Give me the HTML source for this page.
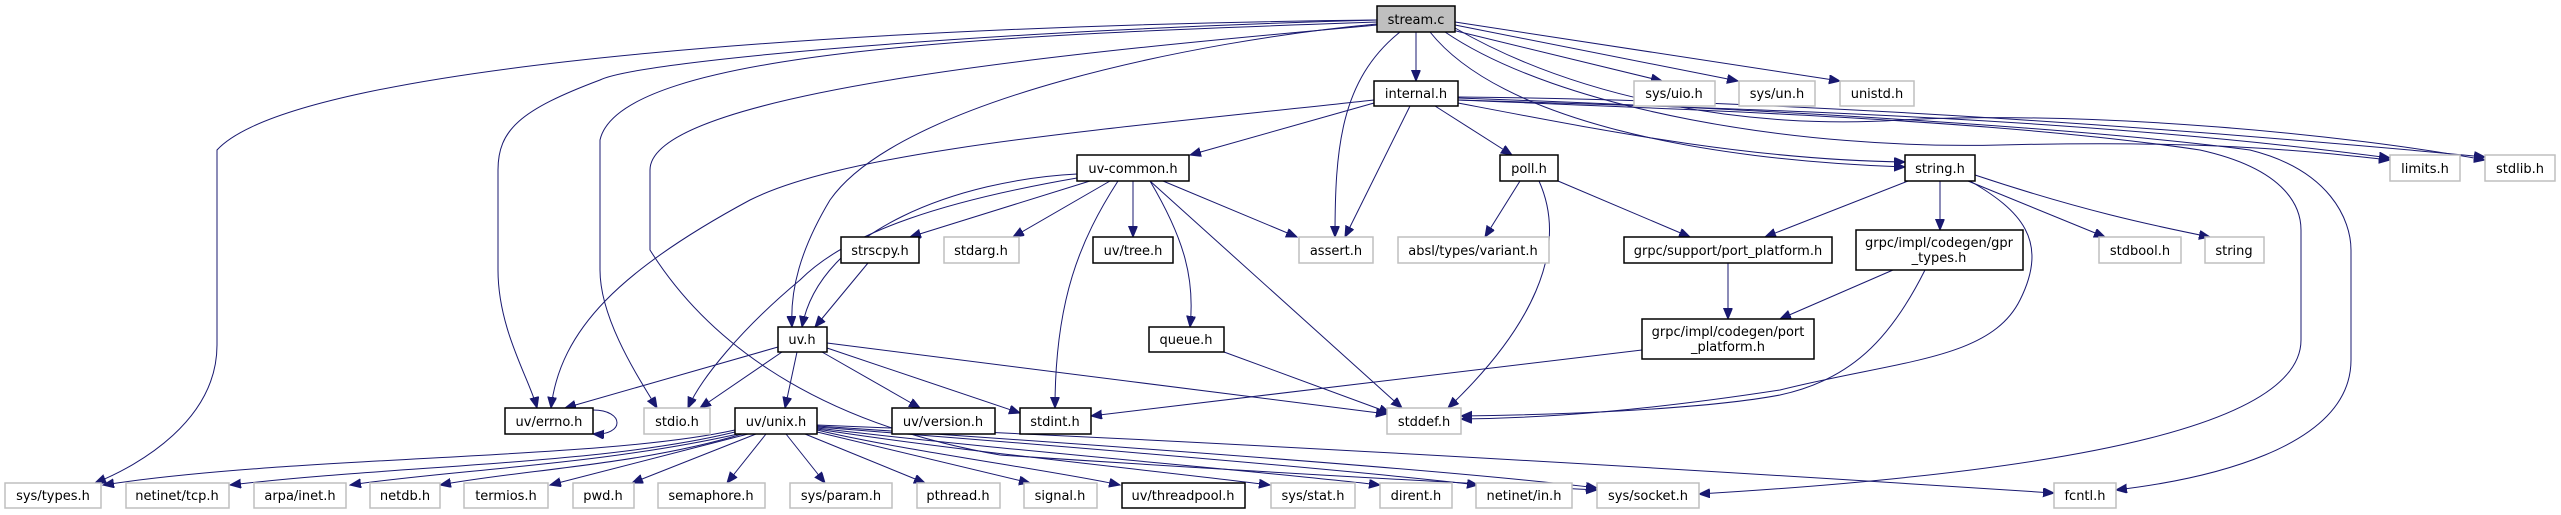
<!DOCTYPE html>
<html><head><meta charset="utf-8"><style>
html,body{margin:0;padding:0;background:#fff;}
svg{display:block;}
text{font-family:"DejaVu Sans","Liberation Sans",sans-serif;font-size:13px;text-anchor:middle;}
.n{fill:#fff;stroke:#000;stroke-width:1.5;}
.g{fill:#fff;stroke:#bfbfbf;stroke-width:1.5;}
.e{fill:none;stroke:#191970;stroke-width:1;marker-end:url(#a);}
</style></head><body>
<svg width="2561" height="515" viewBox="0 0 2561 515" xmlns="http://www.w3.org/2000/svg">
<defs><marker id="a" markerUnits="userSpaceOnUse" markerWidth="12" markerHeight="10" refX="11" refY="4.5" orient="auto"><path d="M0,0 L11,4.5 L0,9 z" fill="#191970" stroke="#191970"/></marker></defs>
<g>
<path class="e" d="M1377,20 C900,25 300,60 217,150 L217,345 C217,420 140,465 95,483"/>
<path class="e" d="M1377,20 C1000,30 640,60 600,80 C520,110 498,130 498,170 L498,270 C498,330 530,380 537,408"/>
<path class="e" d="M1377,22 C1000,35 620,50 600,140 L600,270 C600,320 640,380 657,408"/>
<path class="e" d="M1377,25 C1100,50 650,90 650,170 L650,250 C700,330 800,420 1000,455 C1300,475 1500,485 1597,490"/>
<path class="e" d="M1377,24 C1200,40 900,100 830,200 C800,250 790,290 792,327"/>
<path class="e" d="M1400,32 C1340,80 1335,150 1335,237"/>
<path class="e" d="M1416,32 L1416,81"/>
<path class="e" d="M1452,30 L1662,81"/>
<path class="e" d="M1455,25 L1738,81"/>
<path class="e" d="M1455,22 L1840,81"/>
<path class="e" d="M1430,32 C1500,120 1700,160 1905,167"/>
<path class="e" d="M1445,32 C1560,110 1800,150 2000,145 C2200,140 2300,150 2390,160"/>
<path class="e" d="M1455,28 C1580,100 1750,130 1900,120 C2100,110 2350,135 2485,160"/>
<path class="e" d="M1374,103 L1190,155"/>
<path class="e" d="M1410,106 L1345,237"/>
<path class="e" d="M1435,106 L1512,155"/>
<path class="e" d="M1374,100 C1100,130 850,150 750,200 C620,270 560,330 551,408"/>
<path class="e" d="M1458,103 C1600,130 1750,160 1905,162"/>
<path class="e" d="M1458,100 C1800,110 2100,120 2390,158"/>
<path class="e" d="M1458,97 C1800,100 2200,130 2485,157"/>
<path class="e" d="M1458,100 C1700,110 2000,120 2200,150 C2290,170 2301,210 2301,230 L2301,340 C2301,420 2100,470 1699,494"/>
<path class="e" d="M1458,98 C1800,110 2100,130 2250,150 C2330,170 2351,220 2351,250 L2351,360 C2351,450 2200,480 2116,490"/>
<path class="e" d="M1077,174 C960,180 820,230 802,327"/>
<path class="e" d="M1077,178 C950,200 850,230 800,280 C740,330 700,380 688,408"/>
<path class="e" d="M1090,181 L910,237"/>
<path class="e" d="M1110,181 L1013,237"/>
<path class="e" d="M1133,181 L1133,237"/>
<path class="e" d="M1118,181 C1080,240 1055,300 1055,408"/>
<path class="e" d="M1150,181 C1185,240 1195,280 1190,327"/>
<path class="e" d="M1150,181 L1402,408"/>
<path class="e" d="M1163,181 L1297,237"/>
<path class="e" d="M1520,181 L1485,237"/>
<path class="e" d="M1558,181 L1690,237"/>
<path class="e" d="M1539,181 C1570,250 1530,330 1448,408"/>
<path class="e" d="M1908,181 L1765,237"/>
<path class="e" d="M1940,181 L1940,230"/>
<path class="e" d="M1968,181 L2105,237"/>
<path class="e" d="M1975,175 C2080,210 2150,225 2210,237"/>
<path class="e" d="M1970,181 C2020,210 2050,240 2020,300 C1990,360 1900,360 1780,390 C1650,410 1550,418 1461,419"/>
<path class="e" d="M1893,270 L1780,319"/>
<path class="e" d="M1925,270 C1890,340 1850,380 1780,395 C1700,410 1550,415 1461,416"/>
<path class="e" d="M1728,263 L1728,319"/>
<path class="e" d="M1642,350 L1091,416"/>
<path class="e" d="M1224,352 L1390,413"/>
<path class="e" d="M868,263 L815,327"/>
<path class="e" d="M778,347 L565,408"/>
<path class="e" d="M782,352 L700,408"/>
<path class="e" d="M797,352 L785,408"/>
<path class="e" d="M822,352 L920,408"/>
<path class="e" d="M827,348 L1020,413"/>
<path class="e" d="M827,343 L1387,414"/>
<path class="e" d="M593,410 C625,410 625,436 593,434"/>
<path class="e" d="M735,430 C600,460 300,455 103,485"/>
<path class="e" d="M735,432 C600,465 400,465 230,485"/>
<path class="e" d="M738,434 C600,465 450,470 350,485"/>
<path class="e" d="M742,434 C640,465 520,470 440,485"/>
<path class="e" d="M748,434 L550,485"/>
<path class="e" d="M756,434 L632,483"/>
<path class="e" d="M766,434 L727,483"/>
<path class="e" d="M786,434 L825,483"/>
<path class="e" d="M805,434 L925,483"/>
<path class="e" d="M817,432 L1030,483"/>
<path class="e" d="M817,430 C900,450 1050,470 1120,485"/>
<path class="e" d="M817,429 C950,450 1150,470 1270,485"/>
<path class="e" d="M817,428 C1000,450 1250,470 1380,485"/>
<path class="e" d="M817,427 C1050,445 1350,470 1478,485"/>
<path class="e" d="M817,426 C1100,445 1450,470 1597,488"/>
<path class="e" d="M817,425 C1200,440 1700,470 2054,493"/>
</g>
<g>
<rect x="1377" y="6" width="78" height="26" fill="#bfbfbf" stroke="#000" stroke-width="1.5"/><text x="1416" y="24">stream.c</text>
<rect class="n" x="1374" y="81" width="84" height="25"/><text x="1416" y="98">internal.h</text>
<rect class="g" x="1634" y="81" width="81" height="25"/><text x="1674" y="98">sys/uio.h</text>
<rect class="g" x="1739" y="81" width="76" height="25"/><text x="1777" y="98">sys/un.h</text>
<rect class="g" x="1840" y="81" width="74" height="25"/><text x="1877" y="98">unistd.h</text>
<rect class="n" x="1077" y="155" width="112" height="26"/><text x="1133" y="173">uv-common.h</text>
<rect class="n" x="1500" y="155" width="58" height="26"/><text x="1529" y="173">poll.h</text>
<rect class="n" x="1905" y="155" width="70" height="26"/><text x="1940" y="173">string.h</text>
<rect class="g" x="2390" y="155" width="70" height="26"/><text x="2425" y="173">limits.h</text>
<rect class="g" x="2485" y="155" width="70" height="26"/><text x="2520" y="173">stdlib.h</text>
<rect class="n" x="841" y="237" width="78" height="26"/><text x="880" y="255">strscpy.h</text>
<rect class="g" x="944" y="237" width="75" height="26"/><text x="981" y="255">stdarg.h</text>
<rect class="n" x="1093" y="237" width="80" height="26"/><text x="1133" y="255">uv/tree.h</text>
<rect class="g" x="1299" y="237" width="74" height="26"/><text x="1336" y="255">assert.h</text>
<rect class="g" x="1398" y="237" width="151" height="26"/><text x="1473" y="255">absl/types/variant.h</text>
<rect class="n" x="1624" y="237" width="208" height="26"/><text x="1728" y="255">grpc/support/port_platform.h</text>
<rect class="n" x="1856" y="230" width="167" height="40"/><text x="1939" y="247">grpc/impl/codegen/gpr</text><text x="1939" y="262">_types.h</text>
<rect class="g" x="2099" y="237" width="82" height="26"/><text x="2140" y="255">stdbool.h</text>
<rect class="g" x="2205" y="237" width="59" height="26"/><text x="2234" y="255">string</text>
<rect class="n" x="778" y="327" width="49" height="25"/><text x="802" y="344">uv.h</text>
<rect class="n" x="1149" y="327" width="75" height="25"/><text x="1186" y="344">queue.h</text>
<rect class="n" x="1642" y="319" width="172" height="40"/><text x="1728" y="336">grpc/impl/codegen/port</text><text x="1728" y="351">_platform.h</text>
<rect class="n" x="505" y="408" width="88" height="26"/><text x="549" y="426">uv/errno.h</text>
<rect class="g" x="644" y="408" width="66" height="26"/><text x="677" y="426">stdio.h</text>
<rect class="n" x="735" y="408" width="82" height="26"/><text x="776" y="426">uv/unix.h</text>
<rect class="n" x="892" y="408" width="103" height="26"/><text x="943" y="426">uv/version.h</text>
<rect class="n" x="1020" y="408" width="71" height="26"/><text x="1055" y="426">stdint.h</text>
<rect class="g" x="1387" y="408" width="74" height="26"/><text x="1424" y="426">stddef.h</text>
<rect class="g" x="5" y="483" width="96" height="25"/><text x="53" y="500">sys/types.h</text>
<rect class="g" x="126" y="483" width="103" height="25"/><text x="177" y="500">netinet/tcp.h</text>
<rect class="g" x="254" y="483" width="92" height="25"/><text x="300" y="500">arpa/inet.h</text>
<rect class="g" x="370" y="483" width="70" height="25"/><text x="405" y="500">netdb.h</text>
<rect class="g" x="464" y="483" width="84" height="25"/><text x="506" y="500">termios.h</text>
<rect class="g" x="573" y="483" width="61" height="25"/><text x="603" y="500">pwd.h</text>
<rect class="g" x="658" y="483" width="107" height="25"/><text x="711" y="500">semaphore.h</text>
<rect class="g" x="790" y="483" width="102" height="25"/><text x="841" y="500">sys/param.h</text>
<rect class="g" x="917" y="483" width="83" height="25"/><text x="958" y="500">pthread.h</text>
<rect class="g" x="1024" y="483" width="73" height="25"/><text x="1060" y="500">signal.h</text>
<rect class="n" x="1122" y="483" width="123" height="25"/><text x="1183" y="500">uv/threadpool.h</text>
<rect class="g" x="1271" y="483" width="84" height="25"/><text x="1313" y="500">sys/stat.h</text>
<rect class="g" x="1380" y="483" width="72" height="25"/><text x="1416" y="500">dirent.h</text>
<rect class="g" x="1476" y="483" width="96" height="25"/><text x="1524" y="500">netinet/in.h</text>
<rect class="g" x="1597" y="483" width="102" height="25"/><text x="1648" y="500">sys/socket.h</text>
<rect class="g" x="2054" y="483" width="62" height="25"/><text x="2085" y="500">fcntl.h</text>
</g>
</svg>
</body></html>
